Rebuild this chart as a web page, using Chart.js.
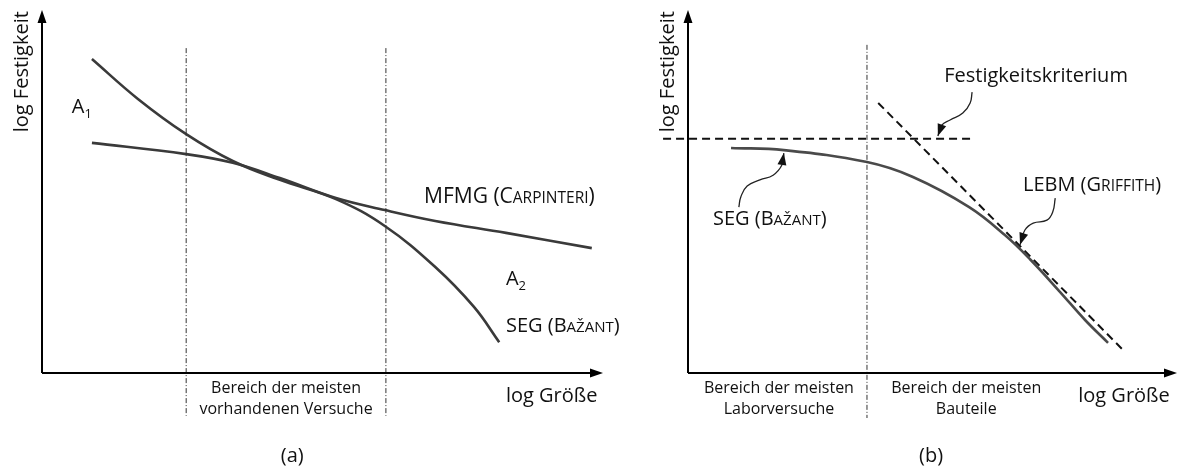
<!DOCTYPE html>
<html>
<head>
<meta charset="utf-8">
<script src="https://cdn.jsdelivr.net/npm/chart.js@4.4.1/dist/chart.umd.min.js"></script>
<style>
  body { margin: 0; background: #fff; width: 1178px; height: 470px; position: relative; overflow: hidden; }
  #chartA { position: absolute; left: 0; top: 0; }
  #chartB { position: absolute; left: 645px; top: 0; }
</style>
</head>
<body>
<canvas id="chartA" width="645" height="470"></canvas>
<canvas id="chartB" width="533" height="470"></canvas>
<script>
// both panels use 0..100 units for log size (x) and log strength (y)

// panel (a)
const mfmgX = [8.9, 25.7, 34.0, 42.4, 52.4, 61.1, 70.1, 82.7, 98.0];
const mfmgY = [63.4, 60.3, 57.9, 53.7, 48.2, 44.9, 41.9, 38.6, 34.4];
const segAX = [8.9, 17.1, 25.7, 34.0, 42.4, 52.4, 61.1, 70.1, 77.0, 81.5];
const segAY = [86.5, 75.5, 65.8, 58.4, 53.2, 47.9, 40.5, 29.2, 18.2, 8.5];
const rangeA = [25.7, 61.3];          // bounds of "vorhandene Versuche"
const rangeSpanY = [89.5, -11.8];

// panel (b)
const segBX = [8.8, 19.6, 36.6, 46.0, 57.5, 64.8, 69.9, 76.1, 81.2, 85.9];
const segBY = [62.0, 61.4, 58.1, 54.0, 45.7, 38.0, 31.4, 22.3, 14.6, 8.3];
const lebmX = [38.9, 89.0];
const lebmY = [74.4, 6.3];
const critX = [-5.1, 57.7];
const critY = [64.5, 64.5];
const rangeB = [36.6];                // Labor / Bauteil border

// leader lines (last point = arrow tip)
const leadSegX = [10.4, 10.8, 12.1, 14.7, 17.4, 19.2, 19.6];
const leadSegY = [45.7, 48.5, 51.5, 53.2, 54.5, 57.3, 60.6];
const leadCritX = [58.1, 57.7, 56.2, 53.6, 51.9, 51.1];
const leadCritY = [77.4, 74.4, 71.6, 69.7, 68.3, 65.3];
const leadLebmX = [75.1, 74.6, 73.4, 70.6, 68.9, 67.9];
const leadLebmY = [48.2, 44.4, 42.1, 41.3, 39.4, 35.3];

// text labels: [x, y, text parts, align]
const F = 20, S = 15, B = 16;
const labelsA = [
  [5.3, 71.6, [['A', F], ['1', 13, 5]], 'left'],
  [68.1, 46.8, [['MFMG (C', 21], ['ARPINTERI', 15.5], [')', 21]], 'left'],
  [82.7, 24.2, [['A', F], ['2', 13, 5]], 'left'],
  [82.7, 11.3, [['SEG (B', F], ['AŽANT', S], [')', F]], 'left'],
  [82.7, -8.0, [['log Größe', F]], 'left'],
  [43.5, -5.5, [['Bereich der meisten', B]], 'center'],
  [43.5, -11.2, [['vorhandenen Versuche', B]], 'center'],
  [44.6, -24.6, [['(a)', F]], 'center']
];
const labelsB = [
  [52.4, 80.2, [['Festigkeitskriterium', F]], 'left'],
  [68.5, 50.1, [['LEBM (G', F], ['RIFFITH', 15.5], [')', F]], 'left'],
  [5.1, 40.8, [['SEG (B', F], ['AŽANT', S], [')', F]], 'left'],
  [79.8, -8.0, [['log Größe', F]], 'left'],
  [18.6, -5.5, [['Bereich der meisten', B]], 'center'],
  [18.6, -11.2, [['Laborversuche', B]], 'center'],
  [56.9, -5.5, [['Bereich der meisten', B]], 'center'],
  [56.9, -11.2, [['Bauteile', B]], 'center'],
  [49.7, -24.6, [['(b)', F]], 'center']
];
const yTitle = 'log Festigkeit';

const FONT = '"Open Sans", sans-serif';
const pts = (xs, ys) => xs.map((x, i) => ({ x: x, y: ys[i] }));

function curve(xs, ys, color, width) {
  return { data: pts(xs, ys), borderColor: color, borderWidth: width,
    tension: 0.4, clip: false };
}
function dashed(xs, ys) {
  return { data: pts(xs, ys), borderColor: '#111', borderWidth: 2,
    borderDash: [8, 5], clip: false };
}
function dashDot(x, span) {
  return { data: pts([x, x], span), borderColor: '#333', borderWidth: 1,
    borderDash: [5, 2, 1, 2], clip: false };
}
function leader(xs, ys) {
  return { data: pts(xs, ys), borderColor: '#222', borderWidth: 1.3,
    tension: 0.45, clip: false, arrowTip: true };
}

function drawRich(ctx, x, y, parts, align) {
  let w = 0;
  parts.forEach(p => { ctx.font = p[1] + 'px ' + FONT; w += ctx.measureText(p[0]).width; });
  let cx = align === 'center' ? x - w / 2 : x;
  parts.forEach(p => {
    ctx.font = p[1] + 'px ' + FONT;
    ctx.fillText(p[0], cx, y + (p[2] || 0));
    cx += ctx.measureText(p[0]).width;
  });
}

function overlay(labels, titleX) {
  return {
    id: 'overlay',
    afterDatasetsDraw(chart) {
      const ctx = chart.ctx, a = chart.chartArea;
      const sx = chart.scales.x, sy = chart.scales.y;
      ctx.save();
      // axes with arrows
      ctx.strokeStyle = '#000';
      ctx.fillStyle = '#000';
      ctx.lineWidth = 2;
      ctx.beginPath();
      ctx.moveTo(a.left, a.bottom);
      ctx.lineTo(a.right - 10, a.bottom);
      ctx.moveTo(a.left, a.bottom);
      ctx.lineTo(a.left, a.top + 10);
      ctx.stroke();
      ctx.beginPath();
      ctx.moveTo(a.right, a.bottom);
      ctx.lineTo(a.right - 13, a.bottom - 4.5);
      ctx.lineTo(a.right - 13, a.bottom + 4.5);
      ctx.closePath();
      ctx.fill();
      ctx.beginPath();
      ctx.moveTo(a.left, a.top);
      ctx.lineTo(a.left - 4.5, a.top + 13);
      ctx.lineTo(a.left + 4.5, a.top + 13);
      ctx.closePath();
      ctx.fill();

      // arrow heads on leader lines
      chart.data.datasets.forEach(ds => {
        if (!ds.arrowTip) return;
        const n = ds.data.length;
        const tx = sx.getPixelForValue(ds.data[n - 1].x), ty = sy.getPixelForValue(ds.data[n - 1].y);
        const px = sx.getPixelForValue(ds.data[n - 2].x), py = sy.getPixelForValue(ds.data[n - 2].y);
        const ang = Math.atan2(ty - py, tx - px);
        ctx.save();
        ctx.translate(tx, ty);
        ctx.rotate(ang);
        ctx.fillStyle = '#111';
        ctx.beginPath();
        ctx.moveTo(0, 0);
        ctx.lineTo(-12, -4.5);
        ctx.lineTo(-12, 4.5);
        ctx.closePath();
        ctx.fill();
        ctx.restore();
      });

      // text
      ctx.fillStyle = '#111';
      ctx.textBaseline = 'alphabetic';
      labels.forEach(l => drawRich(ctx, sx.getPixelForValue(l[0]), sy.getPixelForValue(l[1]), l[2], l[3]));

      // rotated y title
      ctx.save();
      ctx.translate(sx.getPixelForValue(titleX), sy.getPixelForValue(83));
      ctx.rotate(-Math.PI / 2);
      ctx.textAlign = 'center';
      ctx.textBaseline = 'middle';
      ctx.font = F + 'px ' + FONT;
      ctx.fillText(yTitle, 0, 0);
      ctx.restore();
      ctx.restore();
    }
  };
}

function baseOptions(padding) {
  return {
    responsive: false,
    animation: false,
    layout: { padding: padding },
    elements: { point: { radius: 0 } },
    scales: {
      x: { type: 'linear', min: 0, max: 100, display: false },
      y: { type: 'linear', min: 0, max: 100, display: false }
    },
    plugins: { legend: { display: false }, tooltip: { enabled: false } }
  };
}

new Chart(document.getElementById('chartA').getContext('2d'), {
  type: 'line',
  data: {
    datasets: [
      dashDot(rangeA[0], rangeSpanY),
      dashDot(rangeA[1], rangeSpanY),
      curve(mfmgX, mfmgY, '#3a3a3a', 2.6),
      curve(segAX, segAY, '#3a3a3a', 2.6)
    ]
  },
  options: baseOptions({ left: 42, right: 42, top: 10, bottom: 97 }),
  plugins: [overlay(labelsA, -3.6)]
});

new Chart(document.getElementById('chartB').getContext('2d'), {
  type: 'line',
  data: {
    datasets: [
      dashDot(rangeB[0], [90.4, -12.4]),
      dashed(critX, critY),
      dashed(lebmX, lebmY),
      curve(segBX, segBY, '#4a4a4a', 2.6),
      leader(leadSegX, leadSegY),
      leader(leadCritX, leadCritY),
      leader(leadLebmX, leadLebmY)
    ]
  },
  options: baseOptions({ left: 43, right: 1, top: 10, bottom: 97 }),
  plugins: [overlay(labelsB, -4.1)]
});
</script>
</body>
</html>
